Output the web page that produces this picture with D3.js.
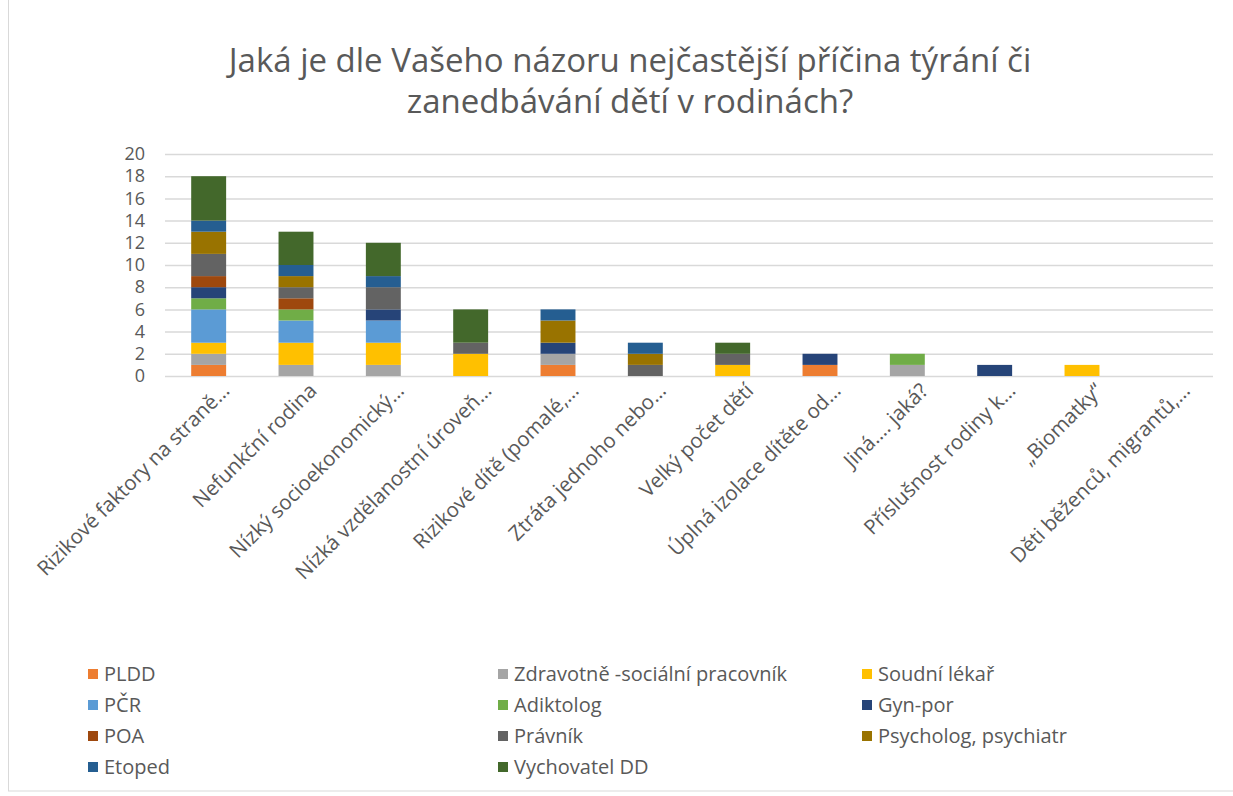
<!DOCTYPE html>
<html>
<head>
<meta charset="utf-8">
<script src="https://cdn.jsdelivr.net/npm/d3@7"></script>
<style>
  body { margin: 0; background: #fff; }
  text { font-family: "Open Sans", sans-serif; fill: #595959; }
</style>
</head>
<body>
<div id="chart"></div>
<script>
// categories (x axis)
const categories = [
  "Rizikové faktory na straně…",
  "Nefunkční rodina",
  "Nízký socioekonomický…",
  "Nízká vzdělanostní úroveň…",
  "Rizikové dítě (pomalé,…",
  "Ztráta jednoho nebo…",
  "Velký počet dětí",
  "Úplná izolace dítěte od…",
  "Jiná…. jaká?",
  "Příslušnost rodiny k…",
  "„Biomatky“",
  "Děti běženců, migrantů,…"
];

// series names and colours
const seriesNames = ["PLDD", "Zdravotně -sociální pracovník", "Soudní lékař", "PČR", "Adiktolog",
  "Gyn-por", "POA", "Právník", "Psycholog, psychiatr", "Etoped", "Vychovatel DD"];
const seriesColors = ["#ED7D31", "#A5A5A5", "#FFC000", "#5B9BD5", "#70AD47",
  "#264478", "#9E480E", "#636363", "#997300", "#255E91", "#43682B"];

// values per series, one per category
const PLDD      = [1, 0, 0, 0, 1, 0, 0, 1, 0, 0, 0, 0];
const zdravotne = [1, 1, 1, 0, 1, 0, 0, 0, 1, 0, 0, 0];
const soudni    = [1, 2, 2, 2, 0, 0, 1, 0, 0, 0, 1, 0];
const PCR       = [3, 2, 2, 0, 0, 0, 0, 0, 0, 0, 0, 0];
const adiktolog = [1, 1, 0, 0, 0, 0, 0, 0, 1, 0, 0, 0];
const gynpor    = [1, 0, 1, 0, 1, 0, 0, 1, 0, 1, 0, 0];
const POA       = [1, 1, 0, 0, 0, 0, 0, 0, 0, 0, 0, 0];
const pravnik   = [2, 1, 2, 1, 0, 1, 1, 0, 0, 0, 0, 0];
const psycholog = [2, 1, 0, 0, 2, 1, 0, 0, 0, 0, 0, 0];
const etoped    = [1, 1, 1, 0, 1, 1, 0, 0, 0, 0, 0, 0];
const vychovatel= [4, 3, 3, 3, 0, 0, 1, 0, 0, 0, 0, 0];

const yTicks = [0, 2, 4, 6, 8, 10, 12, 14, 16, 18, 20];
const titleLines = ["Jaká je dle Vašeho názoru nejčastější příčina týrání či", "zanedbávání dětí v rodinách?"];

const seriesValues = [PLDD, zdravotne, soudni, PCR, adiktolog, gynpor, POA, pravnik, psycholog, etoped, vychovatel];

const W = 1233, H = 796;
const plot = {left: 165, right: 1213, top: 154, bottom: 376};

const svg = d3.select("#chart").append("svg")
  .attr("width", W).attr("height", H);

// chart border
svg.append("rect")
  .attr("x", 8.5).attr("y", -1).attr("width", W).attr("height", H - 4)
  .attr("fill", "none").attr("stroke", "#D9D9D9");

// title
svg.append("text")
  .attr("x", 630).attr("y", 72)
  .attr("text-anchor", "middle")
  .style("font-size", "33px")
  .selectAll("tspan").data(titleLines).enter().append("tspan")
    .attr("x", 630).attr("dy", (d, i) => i ? 41 : 0)
    .text(d => d);

const x = d3.scaleBand()
  .domain(categories)
  .range([plot.left, plot.right])
  .paddingInner(0.6).paddingOuter(0.3);

const y = d3.scaleLinear()
  .domain([0, 20])
  .range([plot.bottom, plot.top]);

// gridlines
svg.append("g").selectAll("line").data(yTicks).enter().append("line")
  .attr("x1", plot.left).attr("x2", plot.right)
  .attr("y1", d => y(d) + 0.5).attr("y2", d => y(d) + 0.5)
  .attr("stroke", "#D9D9D9").attr("stroke-width", 1.5);

// y axis labels
const yAxis = svg.append("g")
  .attr("transform", "translate(" + (plot.left - 20) + ",0)")
  .call(d3.axisLeft(y).tickValues(yTicks).tickSize(0).tickPadding(0));
yAxis.select(".domain").remove();
yAxis.selectAll("text")
  .style("font-size", "18px").style("font-family", "Open Sans, sans-serif").attr("fill", "#595959");

// stacked bars
const table = categories.map((c, i) => {
  const row = {cat: c};
  seriesNames.forEach((s, j) => row[s] = seriesValues[j][i]);
  return row;
});
const stacked = d3.stack().keys(seriesNames)(table);

svg.append("g").selectAll("g").data(stacked).enter().append("g")
  .attr("fill", (d, i) => seriesColors[i])
  .selectAll("rect").data(d => d.filter(p => p[1] > p[0])).enter().append("rect")
    .attr("x", d => x(d.data.cat))
    .attr("y", d => y(d[1]))
    .attr("width", x.bandwidth())
    .attr("height", d => y(d[0]) - y(d[1]));

// x axis labels
const xAxis = svg.append("g")
  .attr("transform", "translate(0," + plot.bottom + ")")
  .call(d3.axisBottom(x).tickSize(0).tickPadding(0));
xAxis.select(".domain").remove();
xAxis.selectAll(".tick text")
  .style("font-size", "20.5px").style("font-family", "Open Sans, sans-serif").attr("fill", "#595959")
  .attr("text-anchor", "end")
  .attr("dy", "0")
  .attr("y", 0)
  .attr("transform", "translate(22,16) rotate(-45)");

// legend
const legendCols = [88, 498, 862];
const legendRowY = [674, 705, 736, 767];
const legend = svg.append("g").selectAll("g").data(seriesNames).enter().append("g")
  .attr("transform", (d, i) => "translate(" + legendCols[i % 3] + "," + legendRowY[Math.floor(i / 3)] + ")");
legend.append("rect")
  .attr("x", 0).attr("y", -5).attr("width", 10).attr("height", 10)
  .attr("fill", (d, i) => seriesColors[i]);
legend.append("text")
  .attr("x", 16).attr("y", 0).attr("dy", "0.35em")
  .style("font-size", "20px")
  .text(d => d);
</script>
</body>
</html>
